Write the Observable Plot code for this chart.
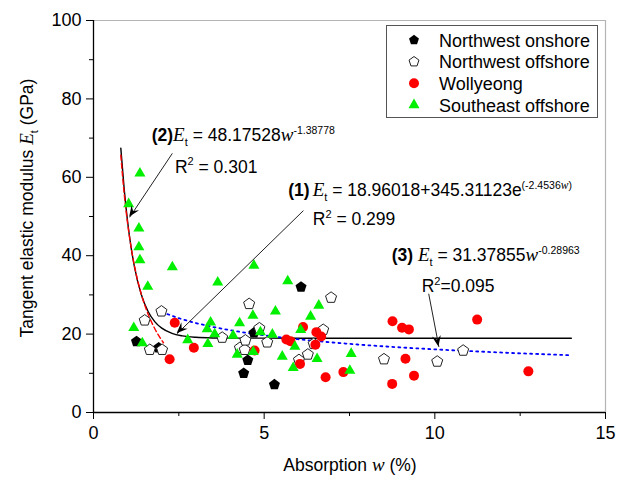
<!DOCTYPE html>
<html><head><meta charset="utf-8">
<script src="https://cdn.jsdelivr.net/npm/d3@7"></script>
<script src="https://cdn.jsdelivr.net/npm/@observablehq/plot@0.6"></script>
<style>
body{margin:0;background:#fff}
#chart{position:relative;width:630px;height:477px}
</style>
</head><body><div id="chart"></div>
<script>
// ---- data ----
const seriesNames = ["Northwest onshore", "Northwest offshore", "Wollyeong", "Southeast offshore"];

const nwOnshoreW = [1.26, 1.91, 4.40, 4.52, 4.70, 5.30, 6.08];
const nwOnshoreE = [18.1, 16.5, 10.0, 13.3, 20.3, 7.1, 32.0];

const nwOffshoreW = [1.50, 1.65, 1.99, 2.01, 3.77, 4.29, 4.43, 4.45, 4.56, 4.86, 5.09, 6.02, 6.28, 6.45, 6.73, 6.96, 8.51, 10.07, 10.83];
const nwOffshoreE = [23.5, 16.0, 25.8, 16.0, 19.1, 16.5, 16.0, 18.4, 27.7, 21.5, 17.9, 13.4, 14.8, 17.5, 21.1, 29.3, 13.6, 13.0, 15.8];

const wollyeongW = [2.23, 2.38, 2.94, 4.72, 5.65, 5.77, 6.05, 6.14, 6.50, 6.53, 6.67, 6.80, 7.32, 8.75, 8.76, 9.04, 9.14, 9.24, 9.39, 11.24, 12.74];
const wollyeongE = [13.6, 22.9, 16.5, 15.8, 18.6, 18.2, 12.4, 21.8, 17.3, 20.5, 19.4, 9.0, 10.3, 7.3, 23.3, 21.6, 13.7, 21.2, 9.4, 23.7, 10.5];

const seOffshoreW = [1.03, 1.18, 1.33, 1.33, 1.36, 1.36, 1.43, 1.59, 2.31, 2.76, 3.33, 3.35, 3.43, 3.55, 3.64, 4.09, 4.21, 4.28, 4.67, 4.68, 4.70, 4.89, 5.24, 5.33, 5.53, 5.69, 5.85, 5.90, 6.07, 6.36, 6.55, 6.60, 7.51, 7.55];
const seOffshoreE = [53.2, 21.6, 47.0, 42.2, 38.9, 61.0, 17.7, 32.1, 37.1, 18.5, 21.3, 17.5, 23.0, 20.0, 33.2, 19.6, 14.8, 22.8, 24.7, 15.5, 37.5, 20.5, 19.9, 25.8, 14.3, 33.5, 11.4, 16.8, 21.1, 24.5, 13.7, 27.3, 10.7, 15.0];

// fitted curves
const fit1W = [0.8, 0.9, 1.0, 1.1, 1.2, 1.4, 1.6, 1.8, 2.0, 2.3, 2.6, 3.0, 3.5, 4.0, 6.0, 14.0];
const fit1E = [67.45, 56.91, 48.66, 42.20, 37.15, 30.09, 25.77, 23.13, 21.51, 20.18, 19.55, 19.18, 19.02, 18.98, 18.96, 18.96];
const fit2W = [0.8, 0.9, 1.0, 1.1, 1.2, 1.4, 1.6, 1.8, 2.05];
const fit2E = [65.66, 55.76, 48.18, 42.21, 37.40, 30.20, 25.09, 21.31, 17.79];
const fit3W = [2.0, 2.5, 3, 4, 5, 6, 8, 10, 12, 14];
const fit3E = [25.67, 24.06, 22.83, 21.00, 19.69, 18.68, 17.18, 16.11, 15.28, 14.61];

// axis ticks
const xMajor = [0, 5, 10, 15];
const xMinor = [2.5, 7.5, 12.5];
const yMajor = [0, 20, 40, 60, 80, 100];
const yMinor = [10, 30, 50, 70, 90];

// annotation anchors (data units): arrow start / tip
const arrowStartW = [2.31, 6.15, 9.82];
const arrowStartE = [66.1, 51.5, 30.3];
const arrowTipW = [1.06, 2.45, 10.12];
const arrowTipE = [49.8, 20.1, 16.7];

// ---- build tables ----
const zip = (ws, es) => ws.map((w, i) => ({w, E: es[i]}));
const nwOn = zip(nwOnshoreW, nwOnshoreE);
const nwOff = zip(nwOffshoreW, nwOffshoreE);
const woll = zip(wollyeongW, wollyeongE);
const seOff = zip(seOffshoreW, seOffshoreE);
const fit1 = zip(fit1W, fit1E), fit2 = zip(fit2W, fit2E), fit3 = zip(fit3W, fit3E);
const arrows = arrowStartW.map((w, i) => ({x1: w, y1: arrowStartE[i], x2: arrowTipW[i], y2: arrowTipE[i]}));

const pentagon = {
  draw(ctx, size) {
    const R = Math.sqrt(size / Math.PI);
    for (let k = 0; k < 5; k++) {
      const a = -Math.PI / 2 + k * 2 * Math.PI / 5;
      const px = R * Math.cos(a), py = R * Math.sin(a);
      if (k === 0) ctx.moveTo(px, py); else ctx.lineTo(px, py);
    }
    ctx.closePath();
  }
};

const FONT = "'Liberation Sans', Arial, Helvetica, sans-serif";
const SERIF = "'Liberation Serif', 'Times New Roman', serif";
const GREEN = "#00f000";

const plot = Plot.plot({
  width: 630, height: 477,
  marginLeft: 93, marginRight: 25, marginTop: 20, marginBottom: 65,
  style: {fontFamily: FONT, fontSize: "18px", color: "black", background: "white", overflow: "visible"},
  x: {domain: [0, 15], label: null},
  y: {domain: [0, 100], label: null},
  marks: [
    Plot.axisX({ticks: xMajor, tickSize: 7, tickPadding: 7, label: null, fontSize: 18, tickFormat: d => String(d)}),
    Plot.axisX({ticks: xMinor, tickSize: 4, tickFormat: () => "", label: null}),
    Plot.axisY({ticks: yMajor, tickSize: 7, tickPadding: 5, label: null, fontSize: 18, tickFormat: d => String(d)}),
    Plot.axisY({ticks: yMinor, tickSize: 4, tickFormat: () => "", label: null}),
    Plot.ruleY([100], {stroke: "#b4b4b4", strokeWidth: 1.2}),
    Plot.ruleX([15], {stroke: "#b4b4b4", strokeWidth: 1.2}),
    Plot.ruleY([0], {stroke: "black", strokeWidth: 1.3}),
    Plot.ruleX([0], {stroke: "black", strokeWidth: 1.3}),
    Plot.line(fit1, {x: "w", y: "E", curve: "monotone-x", stroke: "black", strokeWidth: 1.4}),
    Plot.line(fit2, {x: "w", y: "E", curve: "monotone-x", stroke: "#ff0000", strokeWidth: 1.4, strokeDasharray: "5,3"}),
    Plot.line(fit3, {x: "w", y: "E", curve: "monotone-x", stroke: "#0000ff", strokeWidth: 1.8, strokeDasharray: "2,4"}),
    Plot.dot(nwOn, {x: "w", y: "E", symbol: pentagon, r: 5.8, fill: "black", stroke: "none"}),
    Plot.dot(nwOff, {x: "w", y: "E", symbol: pentagon, r: 5.8, fill: "white", stroke: "#222", strokeWidth: 1}),
    Plot.dot(woll, {x: "w", y: "E", r: 5, fill: "#ff0000", stroke: "none"}),
    Plot.dot(seOff, {x: "w", y: "E", symbol: "triangle", r: 4.1, fill: GREEN, stroke: "none"}),
    Plot.link(arrows, {x1: "x1", y1: "y1", x2: "x2", y2: "y2", stroke: "#222", strokeWidth: 1})
  ]
});

document.getElementById("chart").appendChild(plot);
const svg = d3.select(plot);
const xs = plot.scale("x"), ys = plot.scale("y");

// arrowheads (filled, notched)
arrows.forEach(a => {
  const tx = xs.apply(a.x2), ty = ys.apply(a.y2);
  const sx = xs.apply(a.x1), sy = ys.apply(a.y1);
  const ang = Math.atan2(ty - sy, tx - sx) * 180 / Math.PI;
  svg.append("path")
    .attr("d", "M0,0 L-11,-4.5 L-7,0 L-11,4.5 Z")
    .attr("fill", "black")
    .attr("transform", `translate(${tx},${ty}) rotate(${ang})`);
});

// rich text helper
function rich(parent, x, y, parts, extra) {
  const t = parent.append("text").attr("x", x).attr("y", y)
    .attr("font-family", FONT).attr("font-size", 17.5).attr("fill", "black")
    .attr("text-anchor", "start")
    .style("white-space", "pre");
  if (extra) extra(t);
  let shift = 0;
  for (const p of parts) {
    const target = p.sub ? 5 : p.sup ? -7.5 : 0;
    const ts = t.append("tspan").text(p.t).attr("dy", target - shift);
    shift = target;
    if (p.dx) ts.attr("dx", p.dx);
    if (p.sub || p.sup) ts.attr("font-size", p.size || 11);
    if (p.b) ts.attr("font-weight", "bold");
    if (p.i) ts.attr("font-style", "italic").attr("font-family", SERIF).attr("font-size", p.size || 19);
  }
  return t;
}

const ann = svg.append("g");
const P = (w, E) => [xs.apply(w), ys.apply(E)];

// (2)
rich(ann, ...P(1.72, 69.1), [
  {t: "(2)", b: true}, {t: "E", i: true}, {t: "t", sub: true}, {t: " = 48.17528"},
  {t: "w", i: true}, {t: "-1.38778", sup: true, size: 10.5}
]);
rich(ann, ...P(2.40, 61.0), [{t: "R"}, {t: "2", sup: true, size: 11}, {t: " = 0.301"}]);
// (1)
rich(ann, ...P(5.72, 55.0), [
  {t: "(1)", b: true}, {t: "E", i: true, dx: 3}, {t: "t", sub: true}, {t: " = 18.96018+345.31123e"},
  {t: "(-2.4536", sup: true, size: 10.5}, {t: "w", sup: true, i: true, size: 11.5}, {t: ")", sup: true, size: 10.5}
]);
rich(ann, ...P(6.44, 47.7), [{t: "R"}, {t: "2", sup: true, size: 11}, {t: " = 0.299"}]);
// (3)
rich(ann, ...P(8.75, 38.5), [
  {t: "(3) ", b: true}, {t: "E", i: true}, {t: "t", sub: true}, {t: " = 31.37855"},
  {t: "w", i: true}, {t: "-0.28963", sup: true, size: 10.5}
]);
rich(ann, ...P(9.63, 30.6), [{t: "R"}, {t: "2", sup: true, size: 11}, {t: "=0.095"}]);

// axis labels
rich(svg, 350, 471, [{t: "Absorption "}, {t: "w", i: true}, {t: " (%)"}],
  t => t.attr("text-anchor", "middle"));
rich(svg, 0, 0, [{t: "Tangent elastic modulus "}, {t: "E", i: true}, {t: "t", sub: true}, {t: " (GPa)"}],
  t => t.attr("text-anchor", "middle").attr("transform", "translate(33,208) rotate(-90)"));

// legend
const lg = svg.append("g");
lg.append("rect").attr("x", 386.5).attr("y", 25.5).attr("width", 211).attr("height", 92)
  .attr("fill", "white").attr("stroke", "#555").attr("stroke-width", 1);
const rowsY = [40, 61.7, 83.3, 105];
const legSym = [
  {type: pentagon, size: Math.PI * 5.2 * 5.2, fill: "black", stroke: "none"},
  {type: pentagon, size: Math.PI * 5.2 * 5.2, fill: "white", stroke: "#222"},
  {type: d3.symbolCircle, size: Math.PI * 25, fill: "#ff0000", stroke: "none"},
  {type: d3.symbolTriangle, size: Math.PI * 4.1 * 4.1, fill: GREEN, stroke: "none"}
];
seriesNames.forEach((name, i) => {
  const s = legSym[i];
  lg.append("path").attr("d", d3.symbol(s.type, s.size)())
    .attr("transform", `translate(414,${rowsY[i]})`)
    .attr("fill", s.fill).attr("stroke", s.stroke);
  lg.append("text").attr("x", 439).attr("y", rowsY[i] + 6.5).attr("text-anchor", "start")
    .attr("font-family", FONT).attr("font-size", 18).attr("fill", "black").text(name);
});
</script>
</body></html>
